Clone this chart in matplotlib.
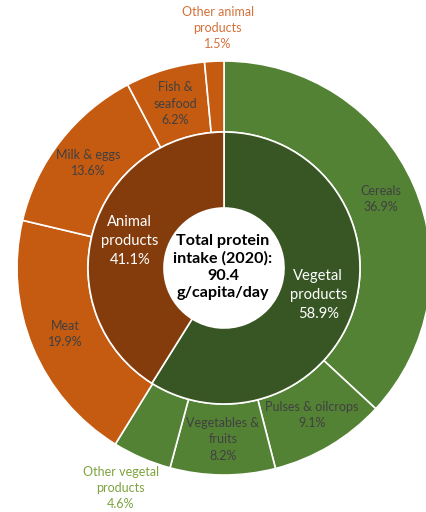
import numpy as np
import matplotlib
matplotlib.use("Agg")
import matplotlib.pyplot as plt

# ---- data ----
outer_labels = ["Cereals", "Pulses & oilcrops", "Vegetables &\nfruits", "Other vegetal\nproducts",
                "Meat", "Milk & eggs", "Fish &\nseafood", "Other animal\nproducts"]
outer_values = [36.9, 9.1, 8.2, 4.6, 19.9, 13.6, 6.2, 1.5]
outer_groups = ["veg", "veg", "veg", "veg", "ani", "ani", "ani", "ani"]
outer_outside = [False, False, False, True, False, False, False, True]

inner_labels = ["Vegetal\nproducts", "Animal\nproducts"]
inner_values = [58.9, 41.1]
inner_groups = ["veg", "ani"]

center_text = "Total protein\nintake (2020):\n90.4\ng/capita/day"

# ---- style ----
outer_col = {"veg": "#548235", "ani": "#C55A11"}
inner_col = {"veg": "#375623", "ani": "#843C0C"}
outside_txt_col = {"veg": "#7DA33F", "ani": "#D4703A"}
FONT = ["Lato", "DejaVu Sans"]

W, H = 426, 512
fig = plt.figure(figsize=(W / 100, H / 100), dpi=100)
ax = fig.add_axes([0, 0, 1, 1])

cx, cy = 224, H - 268
R_out, R_mid, R_in = 207, 136, 60

ax.pie(outer_values, radius=R_out, center=(cx, cy), startangle=90, counterclock=False,
       colors=[outer_col[g] for g in outer_groups],
       wedgeprops=dict(width=R_out - R_mid, edgecolor="white", linewidth=1.2), frame=True)
ax.pie(inner_values, radius=R_mid, center=(cx, cy), startangle=90, counterclock=False,
       colors=[inner_col[g] for g in inner_groups],
       wedgeprops=dict(width=R_mid - R_in, edgecolor="white", linewidth=1.2), frame=True)

ax.set_xlim(0, W)
ax.set_ylim(0, H)
ax.set_aspect("equal")
ax.axis("off")

def mid_angles(vals):
    v = np.asarray(vals, dtype=float)
    cum = np.cumsum(v) - v / 2
    return np.deg2rad(cum / v.sum() * 360.0)  # clockwise from top

# outer labels
for lab, val, grp, out, a in zip(outer_labels, outer_values, outer_groups, outer_outside,
                                 mid_angles(outer_values)):
    r = 240 if out else (R_out + R_mid) / 2
    x = cx + r * np.sin(a)
    y = cy + r * np.cos(a)
    if out:
        x += -8 if np.sin(a) < -0.2 else 5
    col = outside_txt_col[grp] if out else "#404040"
    ax.text(x, y, f"{lab}\n{val:.1f}%", ha="center", va="center", fontsize=9.0,
            color=col, family=FONT, linespacing=1.42)

# inner labels
for lab, val, a in zip(inner_labels, inner_values, mid_angles(inner_values)):
    r = (R_mid + R_in) / 2
    x = cx + r * np.sin(a)
    y = cy + r * np.cos(a)
    ax.text(x, y, f"{lab}\n{val:.1f}%", ha="center", va="center", fontsize=10.6,
            color="white", family=FONT, linespacing=1.45)

ax.text(cx - 1, cy + 1, center_text, ha="center", va="center", fontsize=11.6,
        fontweight="bold", color="black", family=FONT, linespacing=1.3)

fig.savefig("out.png", dpi=100)
